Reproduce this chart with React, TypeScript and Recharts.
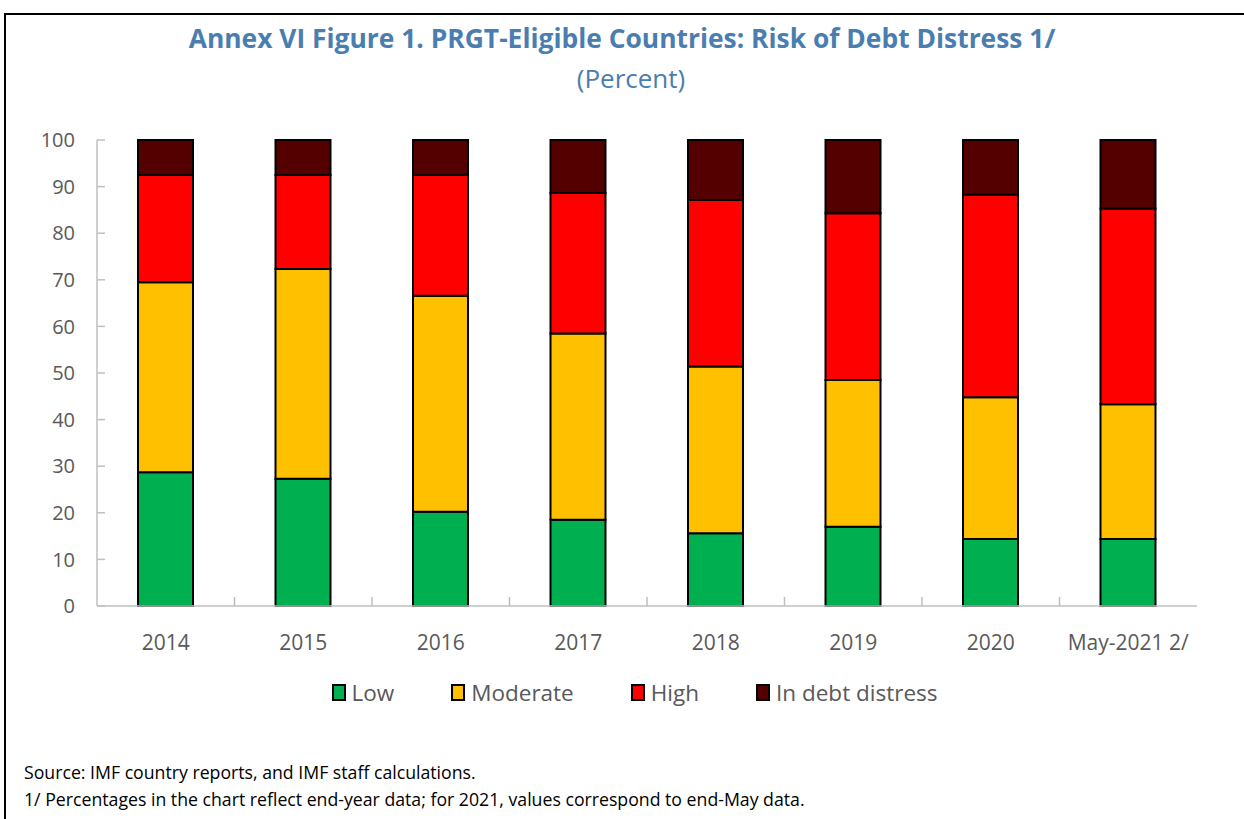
import React from "react";
import { Bar, BarChart, Legend, XAxis, YAxis } from "recharts";

const categories = ["2014", "2015", "2016", "2017", "2018", "2019", "2020", "May-2021 2/"];
const low = [28.7, 27.3, 20.2, 18.5, 15.6, 17.0, 14.4, 14.4];
const moderate = [40.8, 45.0, 46.4, 40.0, 35.8, 31.5, 30.4, 28.9];
const high = [23.0, 20.2, 25.9, 30.1, 35.7, 35.8, 43.5, 42.0];
const distress = [7.5, 7.5, 7.5, 11.4, 12.9, 15.7, 11.7, 14.7];
const yTicks = [0, 10, 20, 30, 40, 50, 60, 70, 80, 90, 100];

const series = [
  { key: "low", name: "Low", color: "#00B050" },
  { key: "moderate", name: "Moderate", color: "#FFC000" },
  { key: "high", name: "High", color: "#FF0000" },
  { key: "distress", name: "In debt distress", color: "#550000" },
];

const data = categories.map((c, i) => ({
  cat: c,
  low: low[i],
  moderate: moderate[i],
  high: high[i],
  distress: distress[i],
}));

const FONT = "'Open Sans', 'Noto Sans', sans-serif";
const AXIS = "#BFBFBF";
const BLUE = "#4A7DB0";
const X_MARGIN = 22;

function LegendRow() {
  return (
    <div style={{ height: 64, display: "flex", justifyContent: "center", paddingTop: 14, paddingLeft: 72, boxSizing: "border-box" }}>
      {series.map((s, i) => (
        <div key={s.key} style={{ display: "flex", alignItems: "center", height: 24, marginLeft: i ? 57 : 0 }}>
          <span
            style={{
              width: 10,
              height: 13,
              background: s.color,
              border: "2px solid #000",
              display: "inline-block",
              marginRight: 6,
            }}
          />
          <span style={{ fontSize: 22.5, color: "#595959", fontFamily: FONT }}>{s.name}</span>
        </div>
      ))}
    </div>
  );
}

const NoLabel = () => <g />;

// category label plus an inward tick at the right boundary of the band
const XTick = (props: any) => {
  const band = props.width / categories.length;
  const edge = props.x + band / 2;
  const axisY = props.y - X_MARGIN;
  return (
    <g>
      {props.index < categories.length - 1 && (
        <line x1={edge} x2={edge} y1={axisY} y2={axisY - 9} stroke={AXIS} strokeWidth={1.5} />
      )}
      <text x={props.x} y={props.y + 7} dy="0.71em" textAnchor="middle" fontSize={21} fill="#595959" fontFamily={FONT}>
        {props.payload.value}
      </text>
    </g>
  );
};

// y labels with inward tick marks
const YTick = (props: any) => (
  <g>
    <line x1={props.x} x2={props.x + 8} y1={props.y} y2={props.y} stroke={AXIS} strokeWidth={1.5} />
    <text x={props.x - 22} y={props.y} dy="0.355em" textAnchor="end" fontSize={20} fill="#595959" fontFamily={FONT}>
      {props.payload.value}
    </text>
  </g>
);

export default function App() {
  return (
    <div style={{ position: "absolute", left: 0, top: 0, width: 1244, height: 819, background: "#fff", fontFamily: FONT, overflow: "hidden" }}>
      <div style={{ position: "absolute", left: 4, top: 13, width: 1260, height: 900, borderTop: "2px solid #000", borderLeft: "2px solid #000" }} />
      <div style={{ position: "absolute", left: 0, width: 1244, top: 20, textAlign: "center", color: BLUE, fontWeight: 700, fontSize: 26.4 }}>
        Annex VI Figure 1. PRGT-Eligible Countries: Risk of Debt Distress 1/
      </div>
      <div style={{ position: "absolute", left: 9, width: 1244, top: 60, textAlign: "center", color: BLUE, fontSize: 26 }}>
        (Percent)
      </div>
      <div style={{ position: "absolute", left: 0, top: 0 }}>
        <BarChart width={1244} height={730} data={data} margin={{ top: 140, right: 47, left: 0, bottom: 0 }} barSize={55}>
          <XAxis xAxisId="top" orientation="top" dataKey="cat" height={0} tick={NoLabel} tickLine={false} axisLine={{ stroke: AXIS, strokeWidth: 1.5 }} />
          <XAxis
            xAxisId="cat"
            dataKey="cat"
            height={60}
            tickLine={false}
            tickSize={0}
            tickMargin={X_MARGIN}
            interval={0}
            axisLine={{ stroke: AXIS, strokeWidth: 1.5 }}
            tick={XTick}
          />
          <YAxis
            width={97}
            domain={[0, 100]}
            ticks={yTicks}
            interval={0}
            tickSize={0}
            tickMargin={0}
            tickLine={false}
            axisLine={{ stroke: AXIS, strokeWidth: 1.5 }}
            tick={YTick}
          />
          <YAxis yAxisId="right" orientation="right" width={0} domain={[0, 100]} tick={NoLabel} tickLine={false} axisLine={{ stroke: AXIS, strokeWidth: 1.5 }} />
          <Legend verticalAlign="bottom" content={() => <LegendRow />} />
          {series.map((s) => (
            <Bar
              key={s.key}
              xAxisId="cat"
              dataKey={s.key}
              name={s.name}
              stackId="a"
              fill={s.color}
              stroke="#000"
              strokeWidth={2}
              isAnimationActive={false}
            />
          ))}
        </BarChart>
      </div>
      <div style={{ position: "absolute", left: 24, top: 759, fontSize: 17.7, color: "#000", lineHeight: "27px" }}>
        <div>Source: IMF country reports, and IMF staff calculations.</div>
        <div>1/ Percentages in the chart reflect end-year data; for 2021, values correspond to end-May data.</div>
      </div>
    </div>
  );
}
